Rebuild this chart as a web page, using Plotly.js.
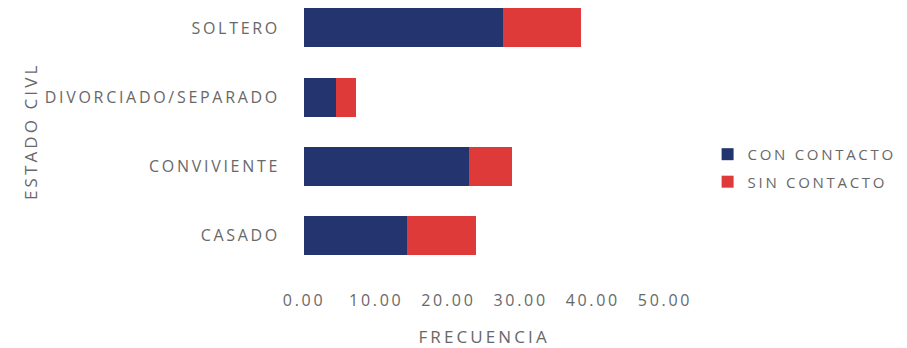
<!DOCTYPE html>
<html>
<head>
<meta charset="utf-8">
<script src="https://cdn.plot.ly/plotly-3.0.1.min.js"></script>
<style>
  html, body { margin: 0; padding: 0; background: #fff; }
  #chart { width: 907px; height: 348px; }
  /* wide, airy lettering for all chart text */
  #chart .main-svg text { letter-spacing: 2.7px; }
  #chart .main-svg .annotation-text { letter-spacing: 3.1px; }
  /* legend labels are wider than Plotly measures them, so let them run free */
  #chart .legend .scrollbox, #chart .legend { clip-path: none !important; }
</style>
</head>
<body>
<div id="chart"></div>
<script>
// Estado civil vs. contacto (frecuencia, %)
var categories = ['CASADO', 'CONVIVIENTE', 'DIVORCIADO/SEPARADO', 'SOLTERO'];
var conContacto = [14.3, 22.8, 4.5, 27.5];
var sinContacto = [9.5, 6.0, 2.7, 10.9];
var xTickValues = [0, 10, 20, 30, 40, 50];
var xTickLabels = ['0.00', '10.00', '20.00', '30.00', '40.00', '50.00'];

var textColor = '#686868';
var family = '"Open Sans", sans-serif';
var font = { family: family, size: 16, color: textColor };

var traces = [
  {
    type: 'bar', orientation: 'h', name: 'CON CONTACTO',
    y: categories, x: conContacto, legendgroup: 'con',
    marker: { color: '#23346f' }, hoverinfo: 'x+y+name'
  },
  {
    type: 'bar', orientation: 'h', name: 'SIN CONTACTO',
    y: categories, x: sinContacto, legendgroup: 'sin',
    marker: { color: '#de3a3a' }, hoverinfo: 'x+y+name'
  }
];

var layout = {
  width: 907, height: 348,
  margin: { l: 304, r: 242, t: 0, b: 78 },
  paper_bgcolor: '#ffffff', plot_bgcolor: '#ffffff',
  font: font,
  barmode: 'stack',
  bargap: 0.436,
  xaxis: {
    range: [0, 50], tickvals: xTickValues, ticktext: xTickLabels,
    showgrid: false, zeroline: false, showline: false,
    ticks: '', ticklabelstandoff: 19, automargin: false,
    tickfont: font, fixedrange: true
  },
  yaxis: {
    type: 'category', categoryorder: 'array', categoryarray: categories,
    range: [-0.5, 3.404],
    showgrid: false, zeroline: false, showline: false,
    ticks: '', ticklabelstandoff: 23, automargin: false,
    tickfont: font, fixedrange: true
  },
  showlegend: true,
  legend: {
    x: 1.118, xanchor: 'left', y: 0.378, yanchor: 'middle',
    traceorder: 'grouped', tracegroupgap: 5,
    font: { family: family, size: 15, color: textColor },
    bgcolor: 'rgba(0,0,0,0)'
  },
  annotations: [
    {
      text: 'FRECUENCIA', xref: 'paper', yref: 'paper',
      x: 0.5, y: 0, xanchor: 'center', yanchor: 'middle',
      yshift: -66, showarrow: false,
      font: { family: family, size: 17, color: textColor }
    },
    {
      text: 'ESTADO CIVL', xref: 'paper', yref: 'paper',
      x: 0, y: 0.5, xanchor: 'center', yanchor: 'middle',
      xshift: -274, yshift: 3, textangle: -90, showarrow: false,
      font: { family: family, size: 17, color: textColor }
    }
  ]
};

Plotly.newPlot('chart', traces, layout, { displayModeBar: false, staticPlot: true });
</script>
</body>
</html>
